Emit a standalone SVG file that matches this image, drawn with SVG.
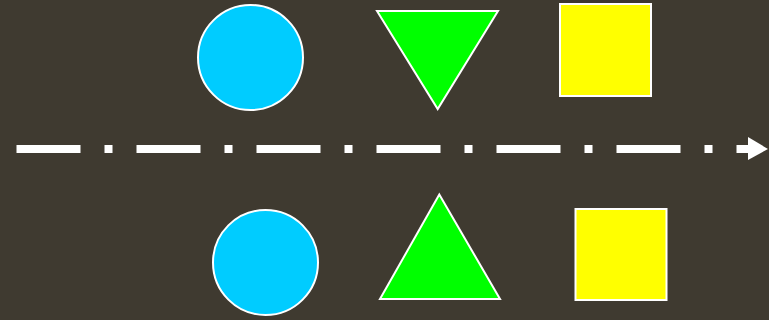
<svg xmlns="http://www.w3.org/2000/svg" width="769" height="320" viewBox="0 0 769 320">
<style>
.sh{stroke:#ffffff;stroke-width:2}
.c{fill:#00ccff}
.t{fill:#00ff00}
.s{fill:#ffff00}
</style>
<rect width="769" height="320" fill="#3f3a30"/>
<g id="top-circle"><circle class="sh c" cx="250.5" cy="57.5" r="52.5"/></g>
<g id="top-triangle"><polygon class="sh t" points="377,11 498,11 437.7,109"/></g>
<g id="top-square"><rect class="sh s" x="560" y="4" width="91" height="92"/></g>
<g id="bottom-circle"><circle class="sh c" cx="265.5" cy="262.5" r="52.5"/></g>
<g id="bottom-triangle"><polygon class="sh t" points="439.3,194.5 380,299 500,299"/></g>
<g id="bottom-square"><rect class="sh s" x="575.5" y="209" width="91" height="91"/></g>
<g id="connectors">
<line x1="16.5" y1="149" x2="750" y2="149" stroke="#ffffff" stroke-width="8" stroke-dasharray="64 24 8 24"/>
<polygon points="748,137 768,149 748,160" fill="#ffffff"/>
</g>
</svg>
